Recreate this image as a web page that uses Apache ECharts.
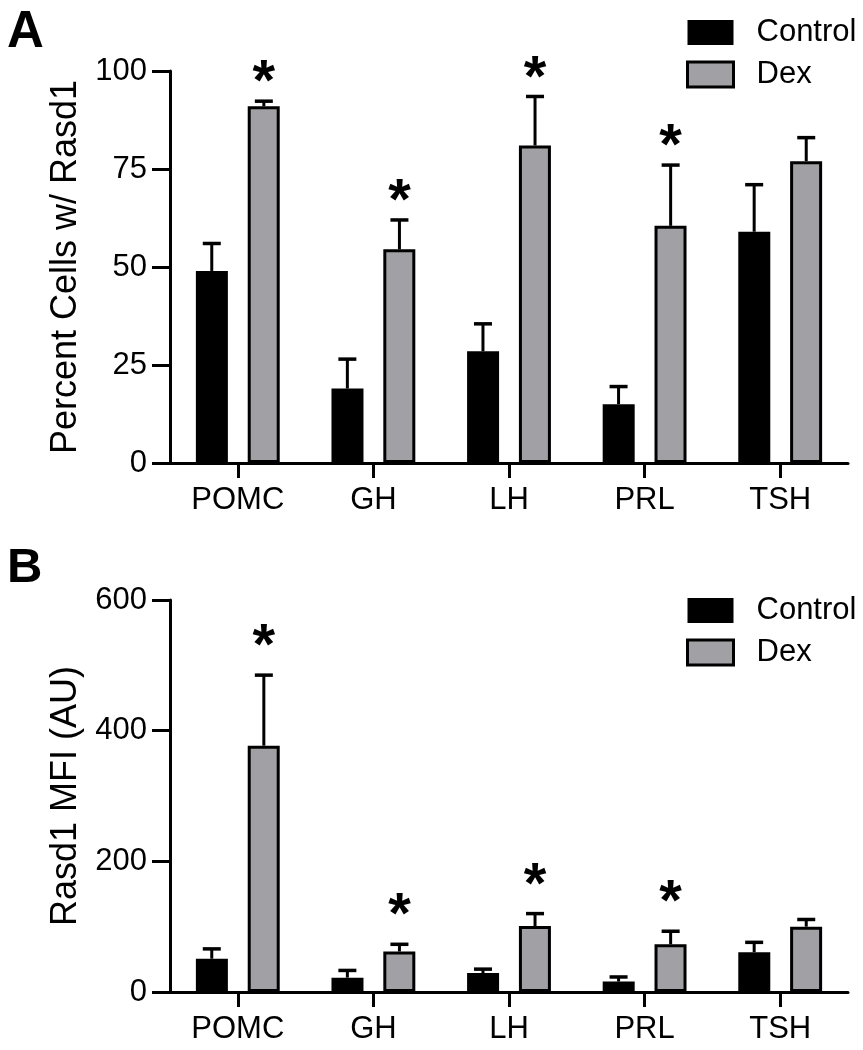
<!DOCTYPE html>
<html>
<head>
<meta charset="utf-8">
<script src="https://cdn.jsdelivr.net/npm/echarts@6/dist/echarts.min.js"></script>
<style>
html,body{margin:0;padding:0;background:#fff;}
#main{width:863px;height:1050px;}
</style>
</head>
<body>
<div id="main"></div>
<script>
// ---------- data ----------
const categories = ['POMC', 'GH', 'LH', 'PRL', 'TSH'];

// Panel A: Percent Cells w/ Rasd1 (mean, upper end of error bar)
const pctControl    = [49, 19, 28.5, 15, 59];
const pctControlErr = [56, 26.5, 35.5, 19.5, 71];
const pctDex        = [91, 54.5, 81, 60.5, 77];
const pctDexErr     = [92.3, 62, 93.5, 76, 83];
const pctDexSig     = [1, 1, 1, 1, 0];
const yTicksA       = [0, 25, 50, 75, 100];

// Panel B: Rasd1 MFI (AU)
const mfiControl    = [51, 22, 29, 16, 61];
const mfiControlErr = [66, 33, 35, 23, 76];
const mfiDex        = [377, 62, 101, 73, 100];
const mfiDexErr     = [485, 73, 120, 93, 111];
const mfiDexSig     = [1, 1, 1, 1, 0];
const yTicksB       = [0, 200, 400, 600];

const seriesNames = ['Control', 'Dex'];

// ---------- chart ----------
const FONT = '"Liberation Sans", Arial, Helvetica, sans-serif';
const GRAY = '#a1a1a5';
const chart = echarts.init(document.getElementById('main'), null, {renderer: 'canvas'});

function yAxis(idx, ticks, name) {
  return {
    type: 'value', gridIndex: idx,
    min: ticks[0], max: ticks[ticks.length - 1], interval: ticks[1] - ticks[0],
    name: name, nameLocation: 'middle', nameGap: 80,
    nameTextStyle: {fontSize: 36, color: '#000', fontFamily: FONT},
    axisLine: {show: true, lineStyle: {color: '#000', width: 3}},
    axisTick: {show: true, length: 18, lineStyle: {color: '#000', width: 3}},
    axisLabel: {fontSize: 31, color: '#000', fontFamily: FONT, margin: 23},
    splitLine: {show: false}
  };
}
function xAxis(idx) {
  return {
    type: 'category', gridIndex: idx, data: categories,
    axisLine: {show: true, lineStyle: {color: '#000', width: 3}},
    axisTick: {show: true, alignWithLabel: true, length: 15, lineStyle: {color: '#000', width: 3}},
    axisLabel: {fontSize: 31, color: '#000', fontFamily: FONT, margin: 22},
    splitLine: {show: false}
  };
}
function barSeries(idx, name, values, color, border) {
  return {
    type: 'bar', name: name, xAxisIndex: idx, yAxisIndex: idx,
    data: values, barWidth: 32, barGap: '62%',
    itemStyle: border ? {color: color, borderColor: '#000', borderWidth: 3} : {color: color},
    silent: true, z: 2
  };
}
function errorSeries(idx, values, errs, sigs, side, starOffset) {
  return {
    type: 'custom', xAxisIndex: idx, yAxisIndex: idx, z: 5, silent: true,
    data: categories.map((c, i) => [i, values[i], errs[i], sigs ? sigs[i] : 0]),
    encode: {x: 0, y: 2},
    renderItem: function (params, api) {
      const i = api.value(0);
      const band = api.size([1, 0])[0];
      const off = side * band * 0.192;
      const base = api.coord([i, api.value(1)]);
      const top = api.coord([i, api.value(2)]);
      const x = base[0] + off;
      const children = [
        {type: 'line', shape: {x1: x, y1: base[1], x2: x, y2: top[1]}, style: {stroke: '#000', lineWidth: 3}},
        {type: 'line', shape: {x1: x - 9, y1: top[1], x2: x + 9, y2: top[1]}, style: {stroke: '#000', lineWidth: 3.5}}
      ];
      if (api.value(3)) {
        const fs = 58;
        children.push({type: 'text', style: {
          text: '*', x: x, y: top[1] - starOffset + 0.225 * fs,
          font: 'bold ' + fs + 'px ' + FONT, align: 'center', verticalAlign: 'middle', fill: '#000'
        }});
      }
      return {type: 'group', children: children};
    }
  };
}
function legend(top) {
  return {
    orient: 'vertical', left: 686, top: top, padding: 0,
    itemWidth: 46, itemHeight: 25, itemGap: 11, selectedMode: false,
    icon: 'rect',
    textStyle: {fontSize: 31, color: '#000', fontFamily: FONT, lineHeight: 31, padding: [0, 0, 0, 18]},
    data: [
      {name: seriesNames[0], itemStyle: {color: '#000', borderWidth: 0}},
      {name: seriesNames[1], itemStyle: {color: GRAY, borderColor: '#000', borderWidth: 3}}
    ]
  };
}

const option = {
  backgroundColor: '#fff',
  animation: false,
  grid: [
    {left: 170, top: 71, width: 678, height: 392, containLabel: false},
    {left: 170, top: 600, width: 678, height: 392, containLabel: false}
  ],
  legend: [legend(17), legend(595)],
  xAxis: [xAxis(0), xAxis(1)],
  yAxis: [yAxis(0, yTicksA, 'Percent Cells w/ Rasd1'), yAxis(1, yTicksB, 'Rasd1 MFI (AU)')],
  graphic: [
    {type: 'text', left: 7, top: 7, style: {text: 'A', font: 'bold 51px ' + FONT, fill: '#000'}},
    {type: 'text', left: 7, top: 544, style: {text: 'B', font: 'bold 49px ' + FONT, fill: '#000'}}
  ],
  series: [
    barSeries(0, seriesNames[0], pctControl, '#000', false),
    barSeries(0, seriesNames[1], pctDex, GRAY, true),
    barSeries(1, seriesNames[0], mfiControl, '#000', false),
    barSeries(1, seriesNames[1], mfiDex, GRAY, true),
    errorSeries(0, pctControl, pctControlErr, null, -1, 0),
    errorSeries(0, pctDex, pctDexErr, pctDexSig, 1, 30),
    errorSeries(1, mfiControl, mfiControlErr, null, -1, 0),
    errorSeries(1, mfiDex, mfiDexErr, mfiDexSig, 1, 40)
  ]
};
chart.setOption(option);
</script>
</body>
</html>
